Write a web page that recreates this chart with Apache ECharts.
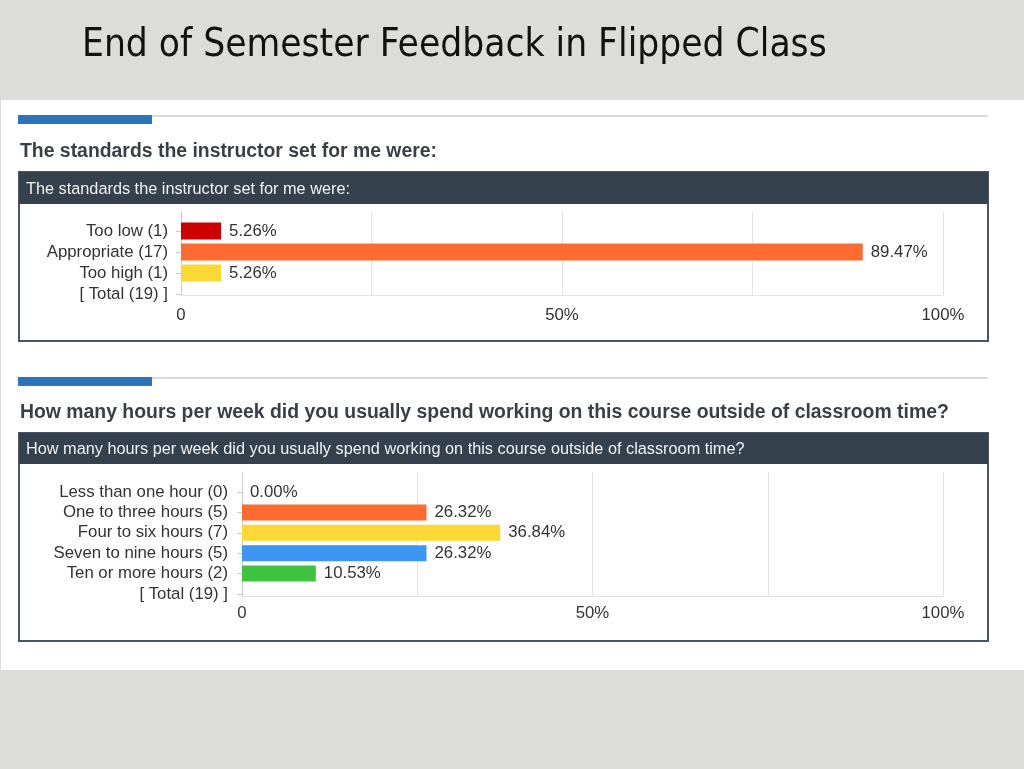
<!DOCTYPE html>
<html>
<head>
<meta charset="utf-8">
<script src="https://cdn.jsdelivr.net/npm/echarts@6/dist/echarts.min.js"></script>
<style>
html,body{margin:0;padding:0;background:#dcdddb;}
#c{width:1024px;height:769px;}
</style>
</head>
<body>
<div id="c"></div>
<script>
var pageTitle = 'End of Semester Feedback in Flipped Class';
var q1Title = 'The standards the instructor set for me were:';
var q1Categories = ['Too low (1)', 'Appropriate (17)', 'Too high (1)', '[ Total (19) ]'];
var q1Values = [5.26, 89.47, 5.26, null];
var q1Colors = ['#cc0000', '#fd6b31', '#fdd835', '#ffffff'];

var q2Title = 'How many hours per week did you usually spend working on this course outside of classroom time?';
var q2Categories = ['Less than one hour (0)', 'One to three hours (5)', 'Four to six hours (7)', 'Seven to nine hours (5)', 'Ten or more hours (2)', '[ Total (19) ]'];
var q2Values = [0.00, 26.32, 36.84, 26.32, 10.53, null];
var q2Colors = ['#fd6b31', '#fd6b31', '#fdd835', '#3d95f4', '#3fc23f', '#ffffff'];

var xTicks = {0: '0', 50: '50%', 100: '100%'};

var FONT = 'Liberation Sans, Arial, sans-serif';
var FS = 16.8;
var chart = echarts.init(document.getElementById('c'));

function sectionGraphics(lineY, headY, boxTop, boxBottom, headerH, text) {
  return [
    {type: 'rect', shape: {x: 18, y: lineY, width: 970, height: 2}, style: {fill: '#dadada'}},
    {type: 'rect', shape: {x: 18, y: lineY, width: 134, height: 9}, style: {fill: '#2b74ba'}},
    {type: 'text', x: 20, y: headY, style: {text: text, fill: '#3a3f45', font: 'bold 19.4px ' + FONT, textVerticalAlign: 'middle'}},
    {type: 'rect', shape: {x: 19, y: boxTop, width: 969, height: boxBottom - boxTop}, style: {fill: '#ffffff', stroke: '#4b5665', lineWidth: 2}},
    {type: 'rect', shape: {x: 19, y: boxTop, width: 969, height: headerH}, style: {fill: '#36414e'}},
    {type: 'text', x: 26, y: boxTop + headerH / 2 + 1.5, style: {text: text, fill: '#f2f2f2', font: '16.3px ' + FONT, textVerticalAlign: 'middle'}}
  ];
}

var graphics = [
  {type: 'rect', shape: {x: 1, y: 100, width: 1023, height: 570}, style: {fill: '#ffffff'}, z: -10},
  {type: 'text', x: 82, y: 46, style: {text: pageTitle, fill: '#111111', font: '38.5px "DejaVu Sans Condensed", Tahoma, sans-serif', textVerticalAlign: 'middle'}}
].concat(sectionGraphics(115, 152, 172, 341, 32, q1Title))
 .concat(sectionGraphics(377, 413, 433, 641, 31, q2Title));

function barSeries(idx, values, colors) {
  return {
    type: 'bar', xAxisIndex: idx, yAxisIndex: idx,
    data: values.map(function (v, i) { return {value: v, itemStyle: {color: colors[i]}}; }),
    barWidth: idx === 0 ? 17 : 16,
    label: {
      show: true, position: 'right', distance: 8, color: '#333', fontFamily: FONT, fontSize: FS,
      formatter: function (p) { return p.value == null ? '' : p.value.toFixed(2) + '%'; }
    },
    silent: true, animation: false
  };
}

var option = {
  animation: false,
  graphic: {elements: graphics},
  grid: [
    {left: 181, width: 762, top: 220.5, height: 84},
    {left: 181, width: 762, top: 212, height: 83},
    {left: 242, width: 701, top: 481.8, height: 122.4},
    {left: 242, width: 701, top: 472, height: 124}
  ],
  xAxis: [
    {gridIndex: 0, type: 'value', min: 0, max: 100, show: false},
    {gridIndex: 1, type: 'value', min: 0, max: 100, interval: 25,
      axisLine: {show: true, lineStyle: {color: '#e3e3e3'}}, axisTick: {show: false},
      splitLine: {show: true, lineStyle: {color: '#e3e3e3'}},
      axisLabel: {margin: 12, color: '#333', fontFamily: FONT, fontSize: FS, formatter: function (v) { return xTicks[v] || ''; }}},
    {gridIndex: 2, type: 'value', min: 0, max: 100, show: false},
    {gridIndex: 3, type: 'value', min: 0, max: 100, interval: 25,
      axisLine: {show: true, lineStyle: {color: '#e3e3e3'}}, axisTick: {show: false},
      splitLine: {show: true, lineStyle: {color: '#e3e3e3'}},
      axisLabel: {margin: 9, color: '#333', fontFamily: FONT, fontSize: FS, formatter: function (v) { return xTicks[v] || ''; }}}
  ],
  yAxis: [
    {gridIndex: 0, type: 'category', inverse: true, data: q1Categories,
      axisLine: {show: false}, axisTick: {show: true, alignWithLabel: true, interval: 0, length: 5, lineStyle: {color: '#cccccc'}},
      axisLabel: {margin: 13, interval: 0, color: '#333', fontFamily: FONT, fontSize: FS}},
    {gridIndex: 1, type: 'value', min: 0, max: 1, axisLabel: {show: false}, splitLine: {show: false}, axisTick: {show: false},
      axisLine: {show: true, lineStyle: {color: '#c8c8c8'}}},
    {gridIndex: 2, type: 'category', inverse: true, data: q2Categories,
      axisLine: {show: false}, axisTick: {show: true, alignWithLabel: true, interval: 0, length: 5, lineStyle: {color: '#cccccc'}},
      axisLabel: {margin: 14, interval: 0, color: '#333', fontFamily: FONT, fontSize: FS}},
    {gridIndex: 3, type: 'value', min: 0, max: 1, axisLabel: {show: false}, splitLine: {show: false}, axisTick: {show: false},
      axisLine: {show: true, lineStyle: {color: '#c8c8c8'}}}
  ],
  series: [barSeries(0, q1Values, q1Colors), barSeries(2, q2Values, q2Colors)]
};
chart.setOption(option);
</script>
</body>
</html>
